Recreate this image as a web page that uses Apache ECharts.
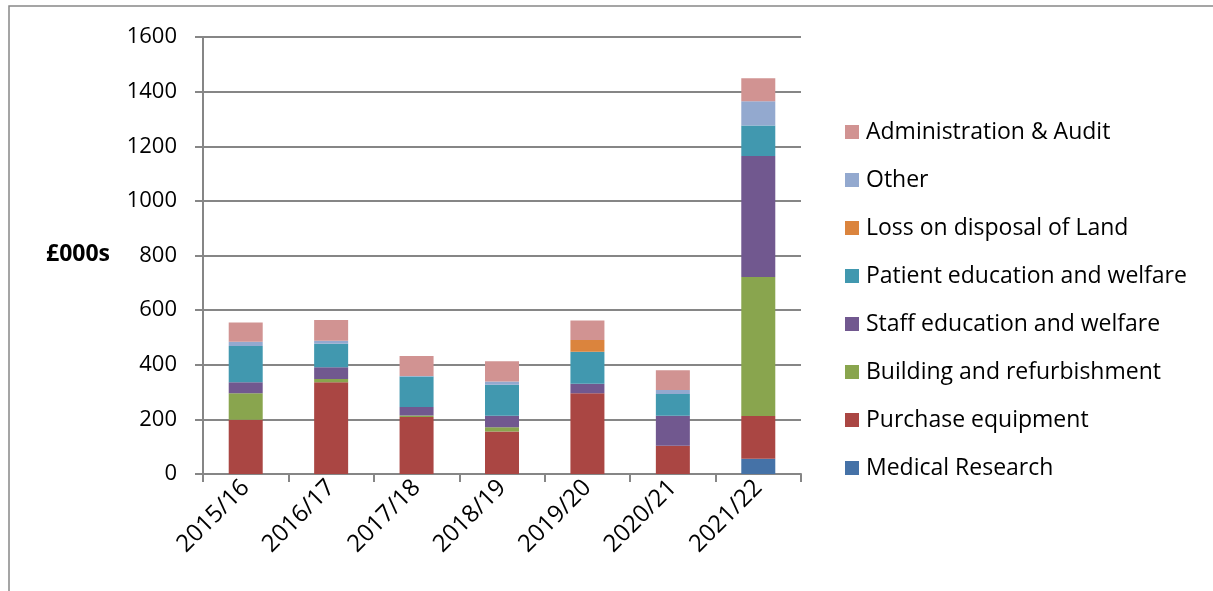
<!DOCTYPE html>
<html>
<head>
<meta charset="utf-8">
<script src="https://cdn.jsdelivr.net/npm/echarts@6/dist/echarts.min.js"></script>
<style>html,body{margin:0;padding:0;background:#fff}#c{width:1213px;height:591px}</style>
</head>
<body>
<div id="c"></div>
<script>
var categories = ['2015/16','2016/17','2017/18','2018/19','2019/20','2020/21','2021/22'];
var medicalResearch = [0,0,0,0,0,0,56];
var purchaseEquipment = [199,336,209,156,296,103,156];
var buildingRefurb = [97,12,5,15,0,0,509];
var staffEducation = [40,43,31,42,34,110,443];
var patientEducation = [133,86,112,114,118,80,112];
var lossOnLand = [0,0,0,0,43,0,0];
var other = [15,11,2,12,0,15,89];
var adminAudit = [71,76,73,74,71,72,84];
var yTicks = [0,200,400,600,800,1000,1200,1400,1600];

var seriesDefs = [
  ['Medical Research', medicalResearch, '#4572A7'],
  ['Purchase equipment', purchaseEquipment, '#AA4643'],
  ['Building and refurbishment', buildingRefurb, '#89A54E'],
  ['Staff education and welfare', staffEducation, '#71588F'],
  ['Patient education and welfare', patientEducation, '#4198AF'],
  ['Loss on disposal of Land', lossOnLand, '#DB843D'],
  ['Other', other, '#93A9CF'],
  ['Administration & Audit', adminAudit, '#D19392']
];
var FONT = '"Open Sans", sans-serif';
var chart = echarts.init(document.getElementById('c'));
chart.setOption({
  animation: false,
  textStyle: {fontFamily: FONT},
  grid: {left: 203, right: 412, top: 37, bottom: 117, containLabel: false},
  graphic: [
    {type: 'rect', shape: {x: 9, y: 6, width: 1300, height: 700}, style: {fill: 'none', stroke: '#888', lineWidth: 1.5}, silent: true},
    {type: 'text', left: 46, top: 243, style: {text: '£000s', font: 'bold 23px ' + FONT, fill: '#000'}}
  ],
  legend: {
    orient: 'vertical', left: 845, top: 120, padding: 0,
    itemWidth: 14, itemHeight: 14, itemGap: 24,
    icon: 'rect',
    data: seriesDefs.map(function(s){return s[0];}).reverse(),
    textStyle: {fontSize: 23, color: '#000', lineHeight: 24, fontFamily: FONT, padding: [0,0,0,2]}
  },
  xAxis: {
    type: 'category', data: categories,
    axisLine: {lineStyle: {color: '#868686', width: 2}},
    axisTick: {show: true, length: 8, lineStyle: {color: '#868686', width: 2}},
    axisLabel: {rotate: 45, fontSize: 24, color: '#000', margin: 10, fontFamily: FONT}
  },
  yAxis: {
    type: 'value', min: yTicks[0], max: yTicks[yTicks.length-1], interval: 200,
    axisLine: {show: true, lineStyle: {color: '#868686', width: 2}},
    axisTick: {show: true, length: 8, lineStyle: {color: '#868686', width: 2}},
    splitLine: {lineStyle: {color: '#868686', width: 2}},
    axisLabel: {fontSize: 22, color: '#000', margin: 26, fontFamily: FONT,
      formatter: function(v){ return String(v); }}
  },
  series: seriesDefs.map(function(s){
    return {name: s[0], type: 'bar', stack: 'total', data: s[1], barWidth: 34,
      itemStyle: {color: s[2]}};
  })
});
</script>
</body>
</html>
